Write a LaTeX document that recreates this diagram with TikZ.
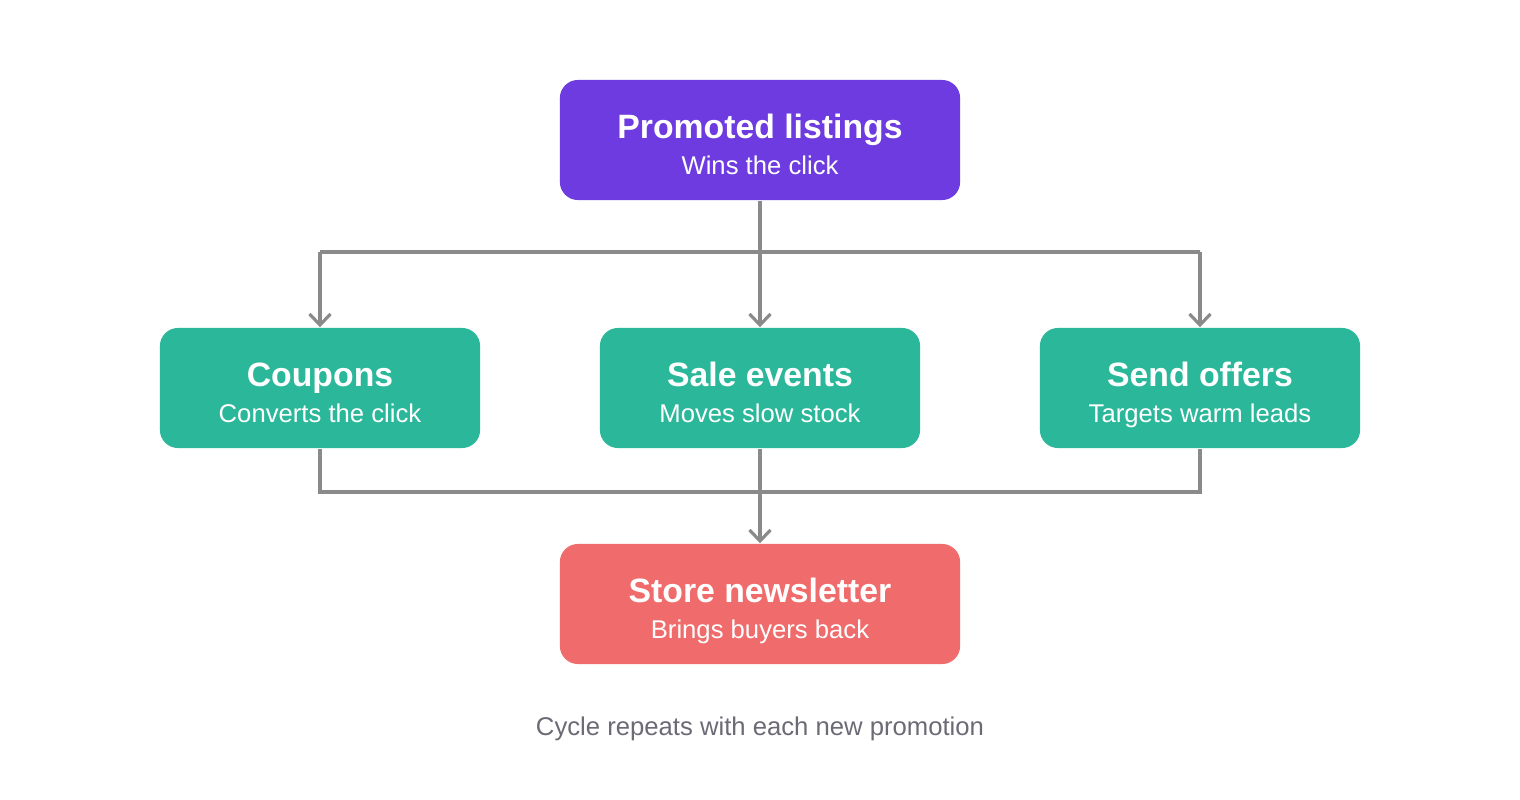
\documentclass[tikz,border=0pt]{standalone}
\usepackage{fontspec}
\setmainfont{Liberation Sans}
\usetikzlibrary{arrows.meta}
\definecolor{promopurple}{HTML}{6D3BDF}
\definecolor{offerteal}{HTML}{2BB799}
\definecolor{newsred}{HTML}{F06B6B}
\definecolor{wiregray}{HTML}{8A8A8A}
\definecolor{notegray}{HTML}{6B6A75}
\begin{document}
\begin{tikzpicture}[
        x = 0.01cm, y = -0.01cm,
        card/.style = {rounded corners = 0.18cm, minimum height = 1.2cm, inner sep = 0pt},
        wide/.style = {card, minimum width = 4cm},
        narrow/.style = {card, minimum width = 3.2cm},
        head/.style = {anchor = base, text = white, inner sep = 0pt, yshift = 0.015cm,
                       font = \fontsize{9.6pt}{11pt}\selectfont\bfseries},
        sub/.style = {anchor = base, text = white, inner sep = 0pt, yshift = -0.34cm,
                      font = \fontsize{7.3pt}{9pt}\selectfont},
        wire/.style = {draw = wiregray, line width = 0.9pt},
        arrowy/.style = {wire, -{Straight Barb[length = 0.11cm, width = 0.21cm, line width = 0.9pt]}}
      ]
      \useasboundingbox (0, 0) rectangle (1520, 800);
      % cards
      \node[wide, fill = promopurple] (promo)   at (760, 140)  {};
      \node[narrow, fill = offerteal] (coupons) at (320, 388)  {};
      \node[narrow, fill = offerteal] (sale)    at (760, 388)  {};
      \node[narrow, fill = offerteal] (offers)  at (1200, 388) {};
      \node[wide, fill = newsred]     (news)    at (760, 604)  {};
      % card texts
      \node[head] (promo-h)   at (promo.center)   {Promoted listings};
      \node[sub]  (promo-s)   at (promo.center)   {Wins the click};
      \node[head] (coupons-h) at (coupons.center) {Coupons};
      \node[sub]  (coupons-s) at (coupons.center) {Converts the click};
      \node[head] (sale-h)    at (sale.center)    {Sale events};
      \node[sub]  (sale-s)    at (sale.center)    {Moves slow stock};
      \node[head] (offers-h)  at (offers.center)  {Send offers};
      \node[sub]  (offers-s)  at (offers.center)  {Targets warm leads};
      \node[head] (news-h)    at (news.center)    {Store newsletter};
      \node[sub]  (news-s)    at (news.center)    {Brings buyers back};
      \node[anchor = base, text = notegray, inner sep = 0pt,
            font = \fontsize{7.3pt}{9pt}\selectfont] (note) at (760, 735)
        {Cycle repeats with each new promotion};
      % junctions
      \coordinate (split) at (760, 252);
      \coordinate (merge) at (760, 492);
      % fan out
      \draw[wire] (promo.south) -- (split);
      \draw[wire] (split) -- (coupons.north |- split) -- (offers.north |- split) -- (split);
      \draw[arrowy] (coupons.north |- split) -- (coupons.north);
      \draw[arrowy] (split) -- (sale.north);
      \draw[arrowy] (offers.north |- split) -- (offers.north);
      % fan in
      \draw[wire] (coupons.south) -- (coupons.south |- merge) -- (offers.south |- merge) -- (offers.south);
      \draw[wire] (sale.south) -- (merge);
      \draw[arrowy] (merge) -- (news.north);
    \end{tikzpicture}
\end{document}
